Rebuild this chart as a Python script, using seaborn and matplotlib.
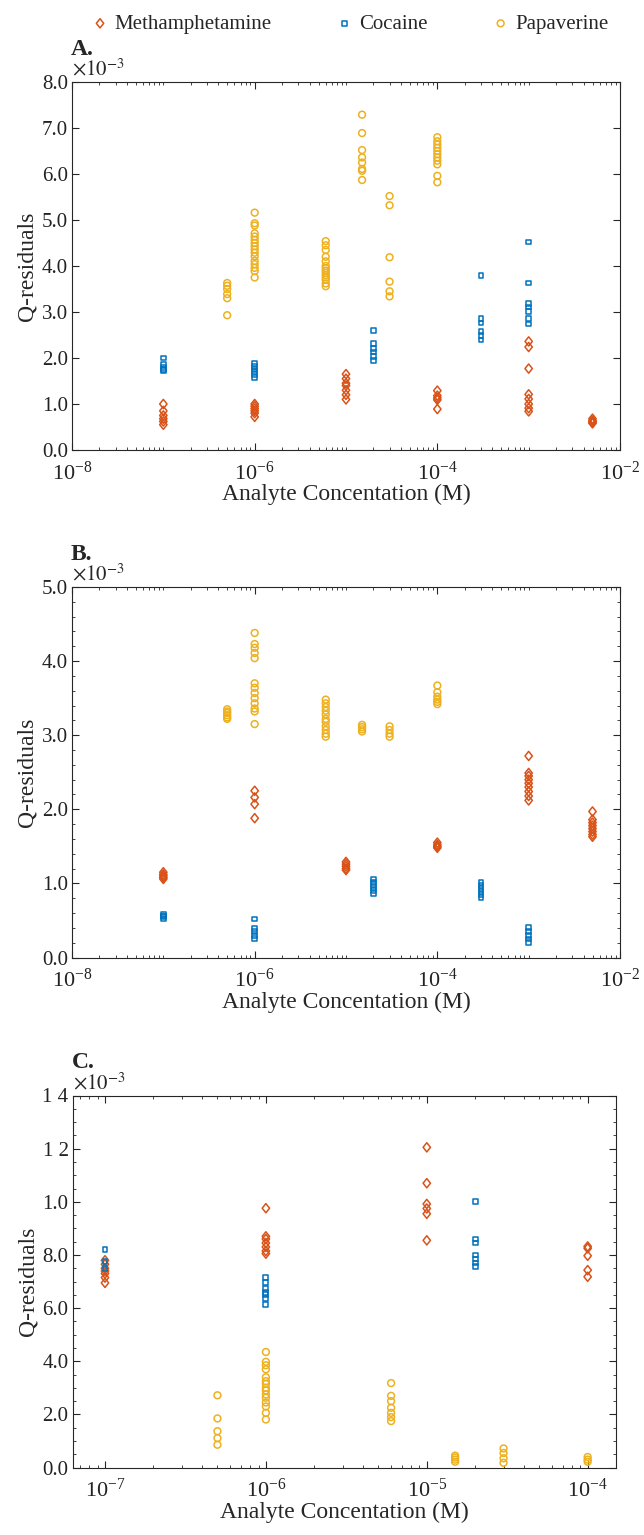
import numpy as np
import pandas as pd
import seaborn as sns
import matplotlib.pyplot as plt
from matplotlib.markers import MarkerStyle
from matplotlib.transforms import Affine2D
from matplotlib.ticker import LogLocator, MultipleLocator, FormatStrFormatter, NullFormatter

# Q-residuals (x 10^-3) grouped by analyte concentration (M)
# panel A
a_meth = {1e-7: [1.0, 0.85, 0.75, 0.68, 0.62, 0.55],
          1e-6: [1.0, 0.95, 0.9, 0.85, 0.8, 0.72],
          1e-5: [1.65, 1.55, 1.45, 1.4, 1.3, 1.2, 1.1],
          1e-4: [1.29, 1.18, 1.13, 1.09, 0.89],
          1e-3: [2.36, 2.24, 1.77, 1.21, 1.11, 1.0, 0.91, 0.84],
          5e-3: [0.68, 0.64, 0.62, 0.6, 0.58]}
a_coc = {1e-7: [2.0, 1.85, 1.8, 1.75, 1.72],
         1e-6: [1.88, 1.82, 1.76, 1.7, 1.64, 1.58],
         2e-5: [2.59, 2.31, 2.21, 2.13, 2.04, 1.94],
         3e-4: [3.79, 2.86, 2.76, 2.57, 2.49, 2.39],
         1e-3: [4.52, 3.63, 3.19, 3.11, 3.01, 2.86, 2.74]}
a_pap = {5e-7: [3.63, 3.57, 3.5, 3.39, 3.3, 2.93],
         1e-6: [5.16, 4.93, 4.88, 4.71, 4.64, 4.57, 4.5, 4.43, 4.36, 4.29,
                4.21, 4.11, 4.04, 3.96, 3.89, 3.75],
         6e-6: [4.54, 4.45, 4.35, 4.2, 4.1, 4.0, 3.95, 3.9, 3.85, 3.8,
                3.75, 3.7, 3.62, 3.56],
         1.5e-5: [7.29, 6.89, 6.52, 6.36, 6.25, 6.11, 6.07, 5.87],
         3e-5: [5.52, 5.32, 4.19, 3.66, 3.45, 3.34],
         1e-4: [6.8, 6.71, 6.64, 6.57, 6.5, 6.43, 6.36, 6.29, 6.21, 5.96, 5.82]}

# panel B
b_meth = {1e-7: [1.15, 1.12, 1.1, 1.08, 1.06],
          1e-6: [2.25, 2.16, 2.07, 1.88],
          1e-5: [1.29, 1.26, 1.23, 1.2, 1.18],
          1e-4: [1.55, 1.52, 1.5, 1.48],
          1e-3: [2.72, 2.49, 2.45, 2.4, 2.35, 2.3, 2.24, 2.18, 2.12],
          5e-3: [1.97, 1.86, 1.82, 1.78, 1.74, 1.7, 1.66, 1.63]}
b_coc = {1e-7: [0.58, 0.56, 0.55, 0.53],
         1e-6: [0.52, 0.39, 0.35, 0.3, 0.26],
         2e-5: [1.06, 1.02, 0.98, 0.94, 0.9, 0.86],
         3e-4: [1.01, 0.97, 0.93, 0.89, 0.85, 0.81],
         1e-3: [0.41, 0.35, 0.3, 0.25, 0.2]}
b_pap = {5e-7: [3.35, 3.32, 3.3, 3.27, 3.24, 3.22],
         1e-6: [4.38, 4.23, 4.18, 4.11, 4.04, 3.7, 3.64, 3.57, 3.5, 3.43,
                3.36, 3.32, 3.15],
         6e-6: [3.48, 3.43, 3.38, 3.33, 3.28, 3.22, 3.18, 3.12, 3.07, 3.02, 2.98],
         1.5e-5: [3.14, 3.11, 3.08, 3.05],
         3e-5: [3.12, 3.07, 3.02, 2.98],
         1e-4: [3.67, 3.58, 3.52, 3.48, 3.45, 3.42]}

# panel C
c_meth = {1e-7: [7.8, 7.65, 7.5, 7.4, 7.3, 7.15, 6.95],
          1e-6: [9.76, 8.7, 8.6, 8.45, 8.3, 8.15, 8.05],
          1e-5: [12.05, 10.7, 9.92, 9.75, 9.55, 8.55],
          1e-4: [8.32, 8.25, 7.97, 7.43, 7.18]}
c_coc = {1e-7: [8.2, 7.75, 7.5],
         1e-6: [7.15, 6.95, 6.75, 6.6, 6.5, 6.35, 6.15],
         2e-5: [10.0, 8.6, 8.45, 8.0, 7.85, 7.7, 7.58]}
c_pap = {5e-7: [2.72, 1.85, 1.37, 1.11, 0.86],
         1e-6: [4.35, 3.98, 3.85, 3.7, 3.4, 3.25, 3.15, 3.0, 2.9, 2.75,
                2.63, 2.45, 2.3, 2.06, 1.81],
         6e-6: [3.18, 2.7, 2.5, 2.25, 2.06, 1.9, 1.75],
         1.5e-5: [0.45, 0.38, 0.3, 0.22],
         3e-5: [0.72, 0.55, 0.35, 0.18],
         1e-4: [0.4, 0.3, 0.22]}

analytes = ["Methamphetamine", "Cocaine", "Papaverine"]
panel_letters = ["A.", "B.", "C."]
c_ytick_labels = ["0.0", "2.0", "4.0", "6.0", "8.0", "1.0", "1 2", "1 4"]

panels = {"A.": dict(zip(analytes, [a_meth, a_coc, a_pap])),
          "B.": dict(zip(analytes, [b_meth, b_coc, b_pap])),
          "C.": dict(zip(analytes, [c_meth, c_coc, c_pap]))}

rows = []
for panel, series in panels.items():
    for analyte, groups in series.items():
        for conc, vals in groups.items():
            for v in vals:
                rows.append((panel, analyte, conc, v))
df = pd.DataFrame(rows, columns=["panel", "analyte", "conc", "q"])

sns.set_style("ticks")
plt.rcParams["font.family"] = ["Liberation Serif", "DejaVu Serif"]
plt.rcParams["mathtext.fontset"] = "stix"

colors = {"Methamphetamine": "#D95319", "Cocaine": "#0072BD", "Papaverine": "#EDB120"}
markers = {"Methamphetamine": MarkerStyle("D", transform=Affine2D().scale(0.8, 1.0)),
           "Cocaine": "s", "Papaverine": "o"}
sizes = {"Methamphetamine": 22, "Cocaine": 12, "Papaverine": 24}

fig = plt.figure(figsize=(6.44, 15.35), dpi=100)
W, H = 644, 1535
boxes = [(72, 620, 82, 450), (72, 620, 587, 957.5), (72.7, 616, 1095.5, 1467.6)]
axes = [fig.add_axes([l / W, 1 - b / H, (r - l) / W, (b - t) / H]) for l, r, t, b in boxes]

for ax, letter in zip(axes, panel_letters):
    sub = df[df["panel"] == letter]
    for analyte in analytes:
        d = sub[sub["analyte"] == analyte]
        sns.scatterplot(data=d, x="conc", y="q", ax=ax, marker=markers[analyte],
                        s=sizes[analyte], color=colors[analyte], facecolor="none",
                        edgecolor=colors[analyte], linewidth=1.1, label=analyte,
                        legend=False)
    ax.set_xscale("log")
    ax.set_xlabel("Analyte Concentation (M)", fontsize=17, labelpad=0)
    ax.set_ylabel("Q-residuals", fontsize=17, labelpad=3)
    ax.tick_params(which="both", direction="in", top=True, right=True,
                   colors="#262626", labelcolor="#222222")
    ax.tick_params(axis="y", labelsize=15, pad=3)
    ax.tick_params(axis="x", labelsize=16, pad=8)
    ax.tick_params(which="major", length=5, width=0.8)
    ax.tick_params(which="minor", length=2.5, width=0.6)
    for sp in ax.spines.values():
        sp.set_color("#262626")
        sp.set_linewidth(0.8)
    # panel letter above the x10^-3 multiplier
    ax.text(-0.002, 1.06, letter, transform=ax.transAxes, fontsize=17,
            fontweight="bold", ha="left", va="bottom")
    ax.annotate(r"$\times10^{-3}$", xy=(0.0, 1.0), xycoords="axes fraction",
                xytext=(0, 1), textcoords="offset points", fontsize=15,
                ha="left", va="bottom")

ax_a, ax_b, ax_c = axes
for ax in (ax_a, ax_b):
    ax.set_xlim(1e-8, 1e-2)
    ax.xaxis.set_major_locator(LogLocator(base=100))
    ax.xaxis.set_minor_locator(LogLocator(base=10, subs=np.arange(1, 10), numticks=100))
    ax.xaxis.set_minor_formatter(NullFormatter())
    ax.yaxis.set_major_formatter(FormatStrFormatter("%.1f"))

ax_a.set_ylim(0, 8)
ax_a.yaxis.set_major_locator(MultipleLocator(1))
ax_a.yaxis.set_minor_locator(plt.NullLocator())

ax_b.set_ylim(0, 5)
ax_b.yaxis.set_major_locator(MultipleLocator(1))
ax_b.yaxis.set_minor_locator(MultipleLocator(0.2))

ax_c.set_xlim(6.3e-8, 1.5e-4)
ax_c.xaxis.set_major_locator(LogLocator(base=10))
ax_c.xaxis.set_minor_locator(LogLocator(base=10, subs=np.arange(2, 10), numticks=100))
ax_c.xaxis.set_minor_formatter(NullFormatter())
ax_c.set_ylim(0, 14)
ax_c.set_yticks(np.arange(0, 15, 2))
ax_c.set_yticklabels(c_ytick_labels)
ax_c.yaxis.set_minor_locator(MultipleLocator(0.5))

handles, labels = ax_a.get_legend_handles_labels()
fig.legend(handles, labels, loc="center", bbox_to_anchor=(0.542, 1 - 24 / H),
           ncol=3, frameon=False, fontsize=15, columnspacing=3.0,
           handletextpad=0.2, handlelength=1.0, markerscale=1.0)

fig.savefig("out.png", dpi=100)
